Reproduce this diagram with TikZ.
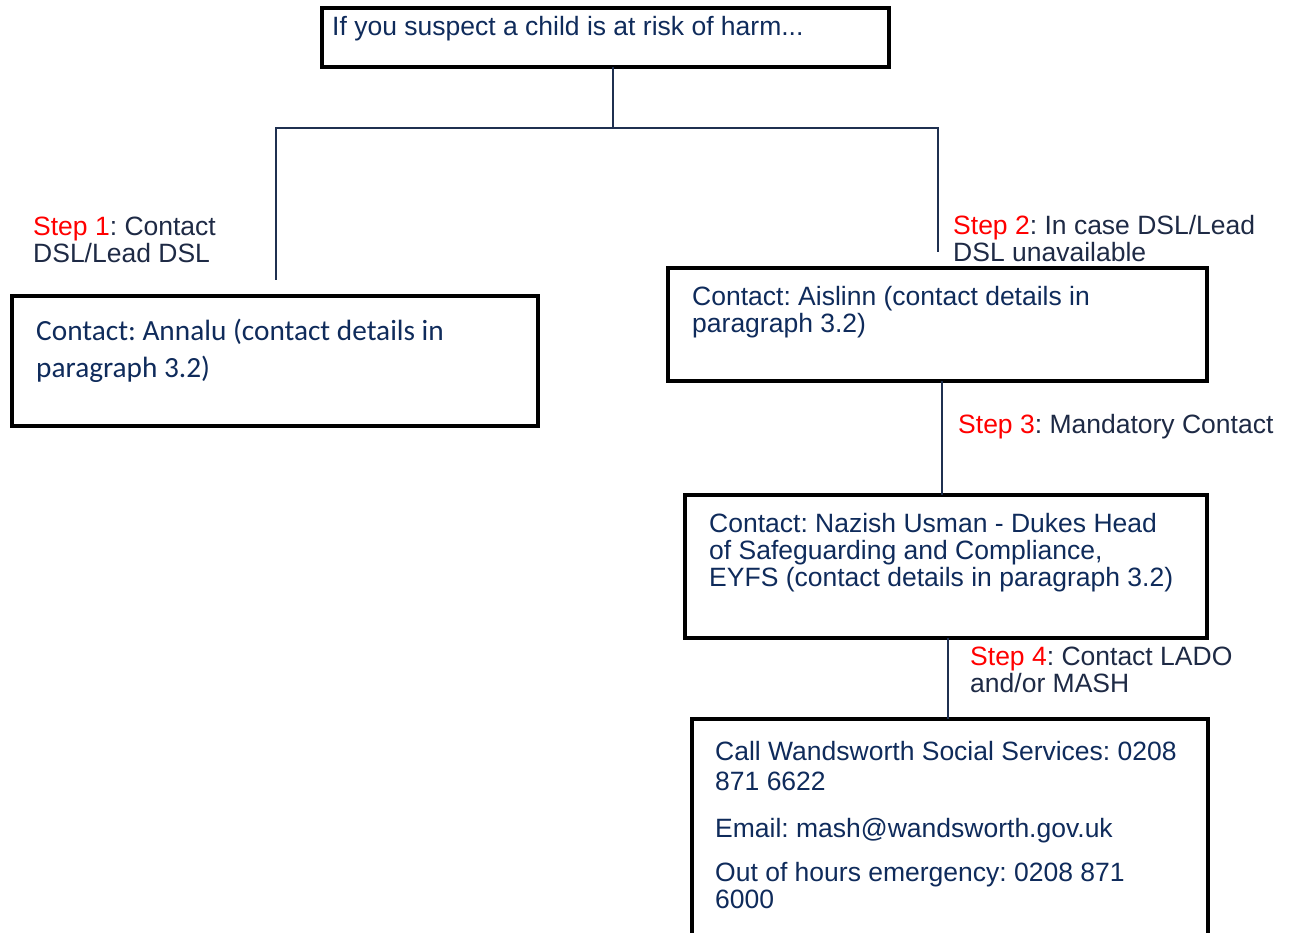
\documentclass[tikz,border=0pt]{standalone}
\usepackage{fontspec}
\setmainfont{Liberation Sans}
\newfontfamily\carlito{Carlito}
\usetikzlibrary{positioning}
\definecolor{navytext}{HTML}{0F2B5B}
\definecolor{steptext}{HTML}{1E2A45}
\definecolor{navyline}{HTML}{1F3050}
\frenchspacing
\newcommand{\stepname}[1]{\textcolor{red}{Step #1}}
\newcommand{\textlines}[1]{\begin{tabular}[t]{@{}l@{}}#1\end{tabular}}
\begin{document}
\begin{tikzpicture}
[x=1pt,y=-1pt,%
  box/.style={draw=black,line width=4.8pt,outer sep=0pt,inner sep=0pt,anchor=north west},%
  boxtext/.style={anchor=base west,inner sep=0pt,text=navytext,font=\fontsize{26.5}{26}\selectfont},%
  steplabel/.style={anchor=base west,inner sep=0pt,text=steptext,font=\fontsize{26.5}{26.5}\selectfont},%
  link/.style={draw=navyline,line width=2.5pt}]
\useasboundingbox (0,0) rectangle (1295,932);
% boxes
\node[box,minimum width=567pt,minimum height=59pt] (top) at (322,8) {};
\node[box,minimum width=526pt,minimum height=130pt] (annalu) at (12,296) {};
\node[box,minimum width=539pt,minimum height=113pt] (aislinn) at (668,268) {};
\node[box,minimum width=522pt,minimum height=143pt] (nazish) at (685,495) {};
\node[box,minimum width=516pt,minimum height=240pt] (wandsworth) at (692,719) {};
% box texts
\node[boxtext] (toptext) at (332,35) {If you suspect a child is at risk of harm...};
\node[boxtext,font=\carlito\fontsize{29.3}{37}\selectfont] (annalutext) at (36,340)
  {\textlines{Contact: Annalu (contact details in\\paragraph 3.2)}};
\node[boxtext] (aislinntext) at (692,305) {\textlines{Contact: Aislinn (contact details in\\paragraph 3.2)}};
\node[boxtext] (nazishtext) at (709,532)
  {\textlines{Contact: Nazish Usman - Dukes Head\\of Safeguarding and Compliance,\\EYFS (contact details in paragraph 3.2)}};
\node[boxtext] (wandsworthtext) at (715,760)
  {\textlines{Call Wandsworth Social Services: 0208\\[4.5pt]871 6622\\[20pt]Email: mash@wandsworth.gov.uk\\[17pt]Out of hours emergency: 0208 871\\6000}};
% step labels
\node[steplabel] (step1) at (33,235) {\textlines{\stepname{1}: Contact\\DSL/Lead DSL}};
\node[steplabel] (step2) at (953,234) {\textlines{\stepname{2}: In case DSL/Lead\\DSL unavailable}};
\node[steplabel] (step3) at (958,433) {\stepname{3}: Mandatory Contact};
\node[steplabel] (step4) at (970,665) {\textlines{\stepname{4}: Contact LADO\\and/or MASH}};
% connectors
\coordinate (split) at (613,128);
\coordinate (leftend) at (276,280);
\coordinate (rightend) at (938,252);
\draw[link] (split |- top.south) -- (split);
\draw[link] (split) -| (leftend);
\draw[link] (split) -| (rightend);
\draw[link] ([xshift=4.5pt]aislinn.south) -- ([xshift=4.5pt]aislinn.south |- nazish.north);
\draw[link] ([xshift=2pt]nazish.south) -- ([xshift=2pt]nazish.south |- wandsworth.north);
\end{tikzpicture}
\end{document}
